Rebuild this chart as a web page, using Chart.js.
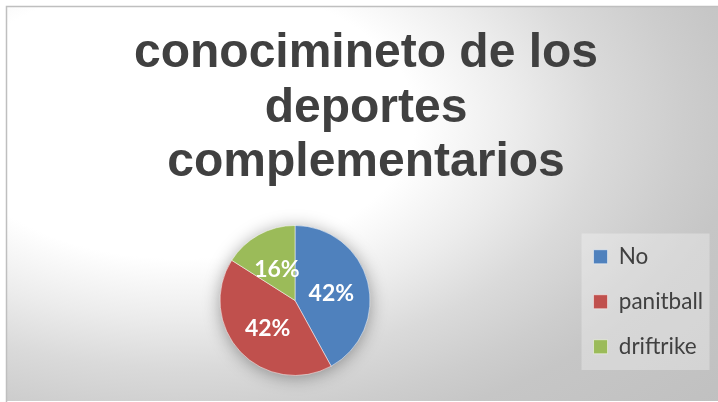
<!DOCTYPE html>
<html>
<head>
<meta charset="utf-8">
<script src="https://cdn.jsdelivr.net/npm/chart.js@4.4.1/dist/chart.umd.min.js"></script>
<style>
  html, body { margin: 0; padding: 0; background: #fff; }
  canvas { display: block; }
</style>
</head>
<body>
<canvas id="sportsChart" width="718" height="402"></canvas>
<script>
const titleLines = ['conocimineto de los', 'deportes', 'complementarios'];
const categories = ['No', 'panitball', 'driftrike'];
const values = [42, 42, 16];
const sliceColors = ['#4F81BD', '#C0504D', '#9BBB59'];

// gray gradient panel + the light box behind the legend
const panelBackground = {
    id: 'panelBackground',
    beforeDraw(chart) {
        const c = chart.ctx;
        c.save();
        c.fillStyle = '#ffffff';
        c.fillRect(0, 0, chart.width, chart.height);

        c.save();
        c.beginPath();
        c.rect(6, 6, chart.width, 395);
        c.clip();
        c.translate(180, 120);
        c.scale(1, 330 / 560);
        const g = c.createRadialGradient(0, 0, 0, 0, 0, 560 * 1.3);
        g.addColorStop(0, '#ffffff');
        g.addColorStop(0.42 / 1.3, '#ffffff');
        g.addColorStop(0.6 / 1.3, '#ececec');
        g.addColorStop(0.75 / 1.3, '#dadada');
        g.addColorStop(0.9 / 1.3, '#cdcdcd');
        g.addColorStop(1.0 / 1.3, '#c6c6c6');
        g.addColorStop(1, '#c0c0c0');
        c.fillStyle = g;
        c.fillRect(-400, -800, 2000, 2000);
        c.restore();

        c.strokeStyle = '#bfbfbf';
        c.lineWidth = 1.5;
        c.beginPath();
        c.moveTo(6.5, 402);
        c.lineTo(6.5, 6.5);
        c.lineTo(chart.width, 6.5);
        c.stroke();

        const hb = chart.legend && chart.legend.legendHitBoxes;
        if (hb && hb.length) {
            const last = hb[hb.length - 1];
            const left = hb[0].left - 12;
            const top = hb[0].top - 12;
            c.fillStyle = 'rgba(255,255,255,0.3)';
            c.fillRect(left, top, 128, last.top + last.height + 12 - top);
        }
        c.restore();
    },
    beforeDatasetsDraw(chart) {
        const arc = chart.getDatasetMeta(0).data[0];
        if (!arc) return;
        const c = chart.ctx;
        c.save();
        c.shadowColor = 'rgba(0,0,0,0.4)';
        c.shadowBlur = 18;
        c.shadowOffsetY = 2;
        c.fillStyle = '#dddddd';
        c.beginPath();
        c.arc(arc.x, arc.y, arc.outerRadius - 1, 0, Math.PI * 2);
        c.fill();
        c.restore();
    }
};

// percentage labels inside the slices
const percentLabels = {
    id: 'percentLabels',
    afterDatasetsDraw(chart) {
        const c = chart.ctx;
        const data = chart.data.datasets[0].data;
        const total = data.reduce((a, b) => a + b, 0);
        c.save();
        c.fillStyle = '#ffffff';
        c.font = 'bold 23px Lato';
        c.textAlign = 'center';
        c.textBaseline = 'middle';
        chart.getDatasetMeta(0).data.forEach((arc, i) => {
            const pos = arc.tooltipPosition();
            c.fillText(Math.round(data[i] / total * 100) + '%', pos.x, pos.y + 2);
        });
        c.restore();
    }
};

const ctx = document.getElementById('sportsChart').getContext('2d');
const sportsChart = new Chart(ctx, {
    type: 'pie',
    data: {
        labels: categories,
        datasets: [{
            data: values,
            backgroundColor: sliceColors,
            borderColor: '#ffffff',
            borderWidth: 0.5,
            radius: 75
        }]
    },
    options: {
        responsive: false,
        animation: false,
        layout: {
            padding: { left: 19, right: 5, top: 0, bottom: 21.5 }
        },
        plugins: {
            title: {
                display: true,
                text: titleLines,
                color: '#404040',
                font: { family: 'Liberation Sans', size: 48, weight: 'bold', lineHeight: 1.135 },
                padding: { top: 27, bottom: 30 }
            },
            legend: {
                position: 'right',
                align: 'end',
                labels: {
                    color: '#404040',
                    font: { family: 'Lato', size: 22.5 },
                    boxWidth: 14,
                    boxHeight: 14,
                    padding: 22.5
                }
            },
            tooltip: { enabled: false }
        }
    },
    plugins: [panelBackground, percentLabels]
});
</script>
</body>
</html>
